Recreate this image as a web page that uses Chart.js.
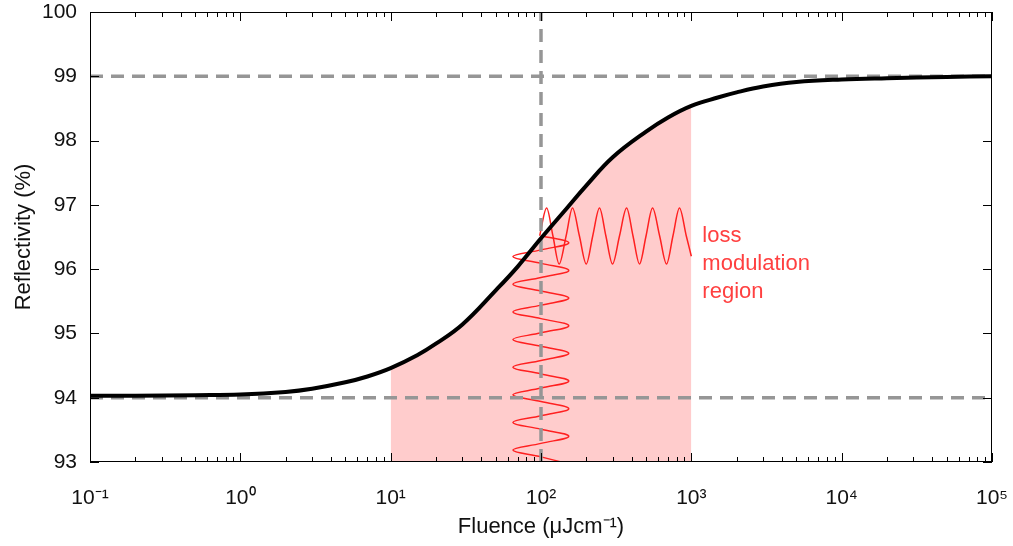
<!DOCTYPE html>
<html lang="en">
<head>
  <meta charset="UTF-8">
  <title>Reflectivity vs Fluence</title>
  <style>
    html, body { margin: 0; padding: 0; background: #fff; }
    #wrap { width: 1013px; height: 546px; }
  </style>
  <script src="https://cdn.jsdelivr.net/npm/chart.js"></script>
</head>
<body>
  <div id="wrap"><canvas id="myChart"></canvas></div>
  <script>
    // main curve
    const fluence = [0.1, 0.2, 0.5, 1, 2, 3, 5, 7, 10, 15, 20, 30, 50, 70, 100, 150, 200, 300, 500, 700, 1000, 1500, 2000, 3000, 5000, 10000, 20000, 50000, 100000];
    const reflectivity = [94.03, 94.03, 94.04, 94.05, 94.09, 94.14, 94.24, 94.33, 94.46, 94.66, 94.84, 95.14, 95.67, 96.04, 96.48, 96.96, 97.30, 97.74, 98.14, 98.36, 98.54, 98.67, 98.75, 98.84, 98.91, 98.95, 98.97, 98.99, 99.0];

    // shaded loss modulation region (fluence range)
    const regionStart = 10;
    const regionEnd = 1000;

    // dashed guide lines
    const guideLevels = [94, 99];
    const guideFluence = 100;

    // horizontal red wave (output modulation)
    const waveOutX = [98, 109, 120, 132, 147, 162, 180, 200, 221, 245, 270, 299, 333, 371, 409, 452, 500, 552, 615, 684, 755, 834, 925, 1000];
    const waveOutY = [96.52, 96.95, 96.52, 96.08, 96.52, 96.95, 96.52, 96.08, 96.52, 96.95, 96.52, 96.08, 96.52, 96.95, 96.52, 96.08, 96.52, 96.95, 96.52, 96.08, 96.52, 96.95, 96.52, 96.20];

    // vertical red wave (input modulation)
    const waveInX = [100, 153, 100, 65, 100, 153, 100, 65, 100, 153, 100, 65, 100, 153, 100, 65, 100, 153, 100, 65, 100, 153, 100, 65, 100, 153, 100, 65, 100, 153, 100, 65, 100, 153];
    const waveInY = [96.52, 96.41, 96.30, 96.195, 96.09, 95.98, 95.87, 95.765, 95.66, 95.55, 95.44, 95.335, 95.23, 95.12, 95.01, 94.905, 94.80, 94.69, 94.58, 94.475, 94.37, 94.26, 94.15, 94.045, 93.94, 93.83, 93.72, 93.615, 93.51, 93.40, 93.29, 93.185, 93.08, 92.97];

    const xTickValues = [0.1, 1, 10, 100, 1000, 10000, 100000];
    const xTickLabels = ['10⁻¹', '10⁰', '10¹', '10²', '10³', '10⁴', '10⁵'];
    const noteLines = ['loss', 'modulation', 'region'];

    const pts = (xs, ys) => xs.map((v, i) => ({x: v, y: ys[i]}));
    const curve = pts(fluence, reflectivity);
    const region = curve.filter(p => p.x >= regionStart && p.x <= regionEnd);
    const gray = 'rgba(150,150,150,1)';
    const dash = [13, 8];
    const fontFam = '"Liberation Sans", Arial, sans-serif';

    const guides = guideLevels.map(lv => ({
      data: [{x: 0.1, y: lv}, {x: 100000, y: lv}],
      borderColor: gray, borderWidth: 3.5, borderDash: dash, pointRadius: 0, showLine: true
    }));

    const frame = {
      id: 'frame',
      afterDraw(chart) {
        const {ctx, chartArea: a, scales: {x, y}} = chart;
        ctx.save();
        ctx.strokeStyle = '#000';
        ctx.lineWidth = 1;
        ctx.beginPath();
        for (let e = -1; e <= 5; e++) {
          for (let m = 1; m < 10; m++) {
            const v = m * Math.pow(10, e);
            if (v > 100000) break;
            const px = Math.round(x.getPixelForValue(v)) + 0.5;
            const len = m === 1 ? 9 : 5;
            ctx.moveTo(px, a.bottom); ctx.lineTo(px, a.bottom - len);
            ctx.moveTo(px, a.top); ctx.lineTo(px, a.top + len);
          }
        }
        for (let v = 93; v <= 100; v++) {
          const py = Math.round(y.getPixelForValue(v)) + 0.5;
          ctx.moveTo(a.left, py); ctx.lineTo(a.left + 9, py);
          ctx.moveTo(a.right, py); ctx.lineTo(a.right - 9, py);
        }
        ctx.stroke();
        ctx.strokeRect(a.left + 0.5, a.top + 0.5, a.width - 1, a.height - 1);

        ctx.fillStyle = '#ff4040';
        ctx.font = '22px ' + fontFam;
        ctx.textBaseline = 'middle';
        const tx = x.getPixelForValue(regionEnd) + 11;
        const ty = y.getPixelForValue(96.52);
        noteLines.forEach((t, i) => ctx.fillText(t, tx, ty + i * 28));
        ctx.restore();
      }
    };

    const ctx = document.getElementById('myChart').getContext('2d');
    const myChart = new Chart(ctx, {
      type: 'scatter',
      data: {
        datasets: [
          {
            data: curve, borderColor: '#000', borderWidth: 4, pointRadius: 0,
            showLine: true, tension: 0.4
          },
          {
            data: [{x: guideFluence, y: 93}, {x: guideFluence, y: 100}],
            borderColor: gray, borderWidth: 3.5, borderDash: dash, pointRadius: 0, showLine: true
          },
          ...guides,
          {
            data: pts(waveOutX, waveOutY), borderColor: '#ff2020', borderWidth: 1.5,
            pointRadius: 0, showLine: true, cubicInterpolationMode: 'monotone'
          },
          {
            data: pts(waveInX, waveInY), borderColor: '#ff2020', borderWidth: 1.5,
            pointRadius: 0, showLine: true, tension: 0.4
          },
          {
            data: region, borderWidth: 0, borderColor: 'rgba(0,0,0,0)', pointRadius: 0,
            showLine: true, tension: 0.4,
            fill: {target: {value: 93}}, backgroundColor: 'rgba(255,0,0,0.2)'
          }
        ]
      },
      options: {
        responsive: true,
        maintainAspectRatio: false,
        animation: false,
        layout: {padding: {top: 12, right: 21, left: 0, bottom: 0}},
        plugins: {legend: {display: false}, tooltip: {enabled: false}},
        scales: {
          x: {
            type: 'logarithmic', min: 0.1, max: 100000,
            grid: {display: false},
            border: {display: false},
            afterBuildTicks: s => { s.ticks = xTickValues.map(v => ({value: v})); },
            afterFit: s => { s.height = 84; s.paddingLeft = 0; s.paddingRight = 0; },
            ticks: {
              autoSkip: false, maxRotation: 0, padding: 16, color: '#111',
              font: {family: fontFam, size: 21},
              callback: (v, i) => xTickLabels[i]
            },
            title: {
              display: true, text: 'Fluence (μJcm⁻¹)', color: '#111',
              font: {family: fontFam, size: 22},
              padding: {top: 0, bottom: 6}
            }
          },
          y: {
            min: 93, max: 100,
            grid: {display: false},
            border: {display: false},
            afterFit: s => { s.width = 90; s.paddingTop = 0; s.paddingBottom = 0; },
            ticks: {
              stepSize: 1, padding: 5, color: '#111',
              font: {family: fontFam, size: 21}
            },
            title: {
              display: true, text: 'Reflectivity (%)', color: '#111',
              font: {family: fontFam, size: 22},
              padding: {top: 11, bottom: 0}
            }
          }
        }
      },
      plugins: [frame]
    });
  </script>
</body>
</html>
